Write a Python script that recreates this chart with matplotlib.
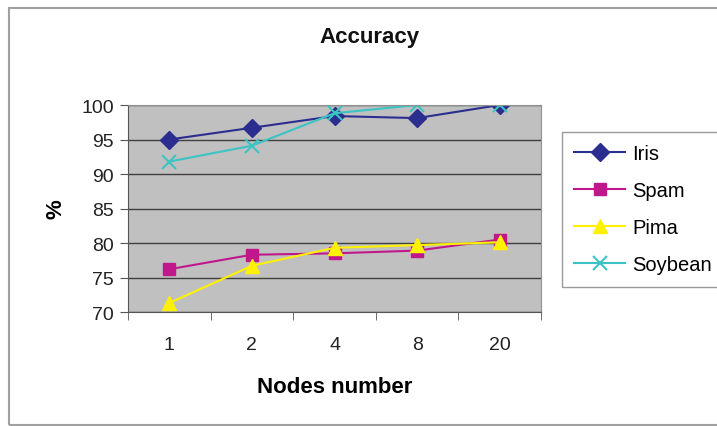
import matplotlib.pyplot as plt
from matplotlib.patches import Rectangle

plt.rcParams["font.family"] = ["Liberation Sans", "DejaVu Sans"]

nodes = ["1", "2", "4", "8", "20"]
iris = [95.0, 96.7, 98.4, 98.1, 100.0]
spam = [76.2, 78.3, 78.5, 78.9, 80.5]
pima = [71.3, 76.7, 79.3, 79.7, 80.1]
soybean = [91.8, 94.1, 98.8, 100.0, 100.0]

series = [
    ("Iris", iris, "#2B2E8F", "D", 9),
    ("Spam", spam, "#C0188C", "s", 9),
    ("Pima", pima, "#FFF200", "^", 10),
    ("Soybean", soybean, "#3CC4C4", "x", 10),
]

fig = plt.figure(figsize=(7.17, 4.27), dpi=100)
fig.patches.append(Rectangle((9 / 717, 1 / 427), 1.2, 1 - 9 / 427 - 1 / 427,
                             transform=fig.transFigure, fill=False,
                             edgecolor="#A0A0A0", linewidth=1.5))

ax = fig.add_axes([128 / 717, 1 - 313 / 427, (541 - 128) / 717, (313 - 106) / 427])
ax.set_facecolor("#C0C0C0")

x = range(len(nodes))
for name, vals, color, marker, ms in series:
    kw = dict(markeredgewidth=1.5) if marker == "x" else dict(markeredgecolor=color)
    ax.plot(x, vals, color=color, marker=marker, markersize=ms, linewidth=1.5,
            label=name, **kw)

ax.set_xlim(-0.5, len(nodes) - 0.5)
ax.set_ylim(70, 100)
ax.set_yticks(range(70, 101, 5))
ax.set_xticks(list(x))
ax.set_xticklabels(nodes)
ax.set_xticks([i - 0.5 for i in range(len(nodes) + 1)], minor=True)
ax.tick_params(axis="x", which="major", length=0, pad=17, labelsize=14, labelcolor="#222222")
ax.tick_params(axis="x", which="minor", length=6, direction="out", color="#555555")
ax.tick_params(axis="y", length=6, direction="out", color="#555555", labelsize=14,
               labelcolor="#222222", pad=4)
ax.grid(axis="y", color="#404040", linewidth=1)
ax.set_axisbelow(True)
for side in ["top", "right"]:
    ax.spines[side].set_color("#909090")
for side in ["left", "bottom"]:
    ax.spines[side].set_color("#555555")

fig.text(370 / 717, 1 - 38 / 427, "Accuracy", fontsize=16, fontweight="bold",
         ha="center", va="center", color="#111111")
ax.set_ylabel("%", fontsize=16, fontweight="bold", labelpad=11)
ax.set_xlabel("Nodes number", fontsize=16, fontweight="bold", labelpad=17)

leg = ax.legend(loc="upper left", bbox_to_anchor=(562 / 717, 1 - 133 / 427),
                bbox_transform=fig.transFigure, fontsize=14.5, frameon=True,
                fancybox=False, edgecolor="#808080", handlelength=2.55,
                labelspacing=0.9, borderpad=0.6, handletextpad=0.35,
                borderaxespad=0)
leg.get_frame().set_linewidth(1)

fig.savefig("out.png", dpi=100)
